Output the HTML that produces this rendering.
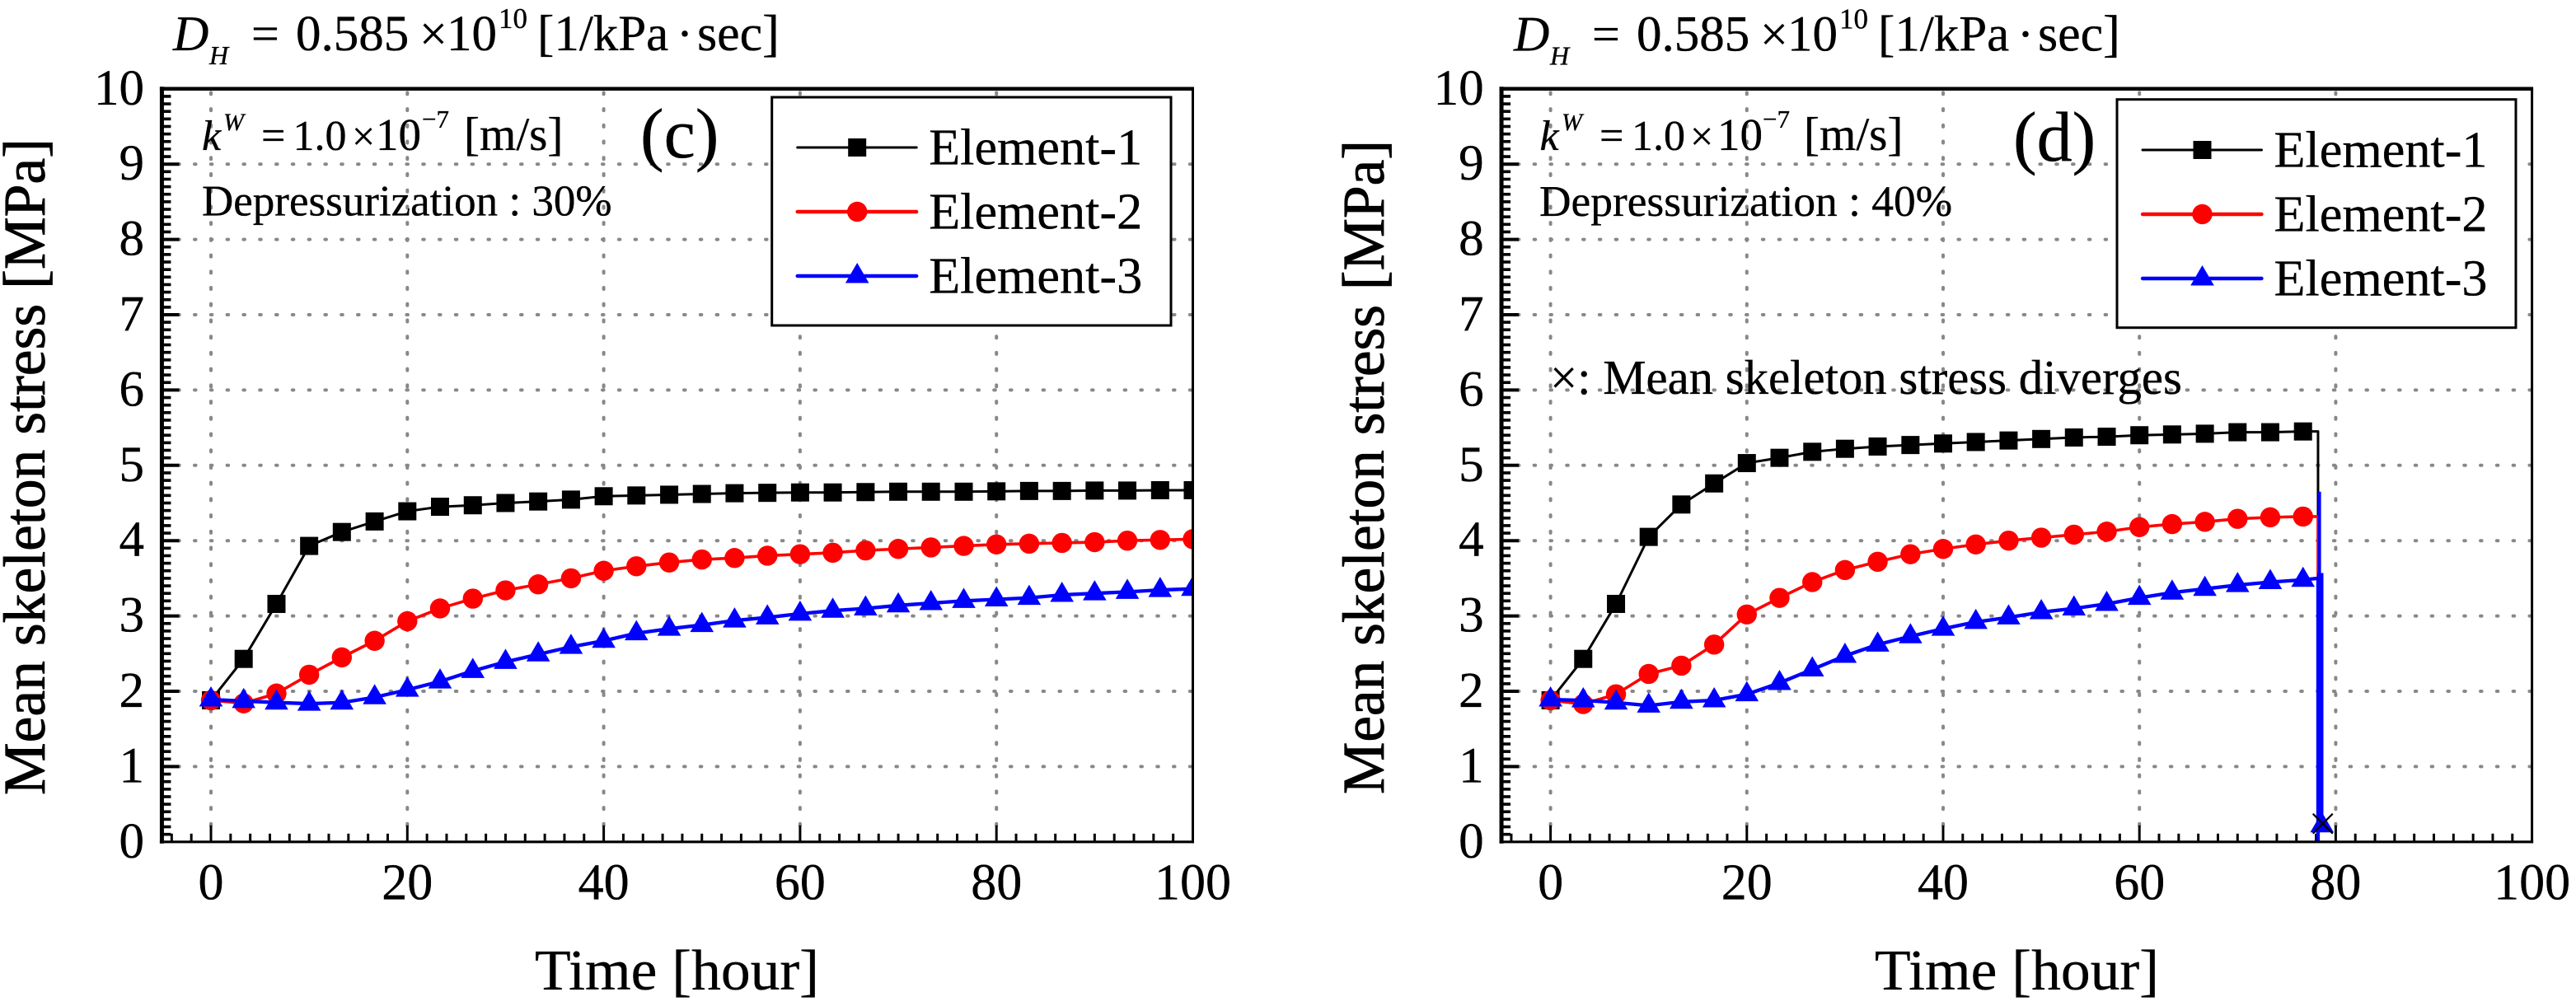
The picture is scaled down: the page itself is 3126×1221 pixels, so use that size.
<!DOCTYPE html>
<html lang="en">
<head>
<meta charset="utf-8">
<title>Mean skeleton stress vs time</title>
<style>
  html,body{margin:0;padding:0;background:#fff;}
  svg{display:block;}
  text{font-family:"Liberation Serif","Times New Roman",serif;fill:#000;stroke:#000;stroke-width:0.35px;}
</style>
</head>
<body>
<svg id="figure" xmlns="http://www.w3.org/2000/svg" width="3126" height="1221" viewBox="0 0 3126 1221">
  <rect x="0" y="0" width="3126" height="1221" fill="#fff"/>
  <g id="panel-c"></g>
  <g id="panel-d"></g>

  <g>
    <text x="210" y="61" font-size="60" font-style="italic">D</text>
    <text x="254" y="78" font-size="32" font-style="italic">H</text>
    <text x="305" y="61" font-size="60">=</text>
    <text x="359" y="61" font-size="61">0.585</text>
    <text x="509" y="61" font-size="60">×</text>
    <text x="542" y="61" font-size="61">10</text>
    <text x="605" y="34" font-size="35">10</text>
    <text x="652" y="61" font-size="61">[1/kPa</text>
    <text x="821" y="61" font-size="60">·</text>
    <text x="846" y="61" font-size="62">sec]</text>
  </g>
  <g>
    <text x="245" y="182" font-size="52" font-style="italic">k</text>
    <text x="271" y="158" font-size="30" font-style="italic">W</text>
    <text x="317" y="182" font-size="52">=</text>
    <text x="355.5" y="182" font-size="52">1.0</text>
    <text x="427" y="182" font-size="50">×</text>
    <text x="456" y="182" font-size="55">10</text>
    <text x="512" y="155" font-size="31">−7</text>
    <text x="563" y="182" font-size="57">[m/s]</text>
  </g>
  <text x="245" y="261.5" font-size="53">Depressurization : 30%</text>
  <text x="777" y="191" font-size="86">(c)</text>
  <text x="649" y="1201" font-size="70" textLength="345" lengthAdjust="spacingAndGlyphs">Time [hour]</text>
  <text transform="translate(54,965) rotate(-90)" font-size="72" textLength="797" lengthAdjust="spacingAndGlyphs" style="stroke-width:0.8px">Mean skeleton stress [MPa]</text>

  <g>
    <text x="1837" y="61.5" font-size="60" font-style="italic">D</text>
    <text x="1881" y="78.5" font-size="32" font-style="italic">H</text>
    <text x="1932" y="61.5" font-size="60">=</text>
    <text x="1986" y="61.5" font-size="61">0.585</text>
    <text x="2136" y="61.5" font-size="60">×</text>
    <text x="2169" y="61.5" font-size="61">10</text>
    <text x="2232" y="34.5" font-size="35">10</text>
    <text x="2279" y="61.5" font-size="61">[1/kPa</text>
    <text x="2448" y="61.5" font-size="60">·</text>
    <text x="2473" y="61.5" font-size="62">sec]</text>
  </g>
  <g>
    <text x="1868.5" y="182" font-size="52" font-style="italic">k</text>
    <text x="1895" y="158" font-size="30" font-style="italic">W</text>
    <text x="1941" y="182" font-size="52">=</text>
    <text x="1980" y="182" font-size="52">1.0</text>
    <text x="2051" y="182" font-size="50">×</text>
    <text x="2084" y="182" font-size="55">10</text>
    <text x="2139" y="155" font-size="31">−7</text>
    <text x="2189" y="182" font-size="57">[m/s]</text>
  </g>
  <text x="1868" y="262" font-size="53.4">Depressurization : 40%</text>
  <text x="2443" y="195" font-size="86">(d)</text>
  <text x="1881" y="478" font-size="58.8">×: Mean skeleton stress diverges</text>
  <text x="2275" y="1201" font-size="70" textLength="345" lengthAdjust="spacingAndGlyphs">Time [hour]</text>
  <text transform="translate(1679,964) rotate(-90)" font-size="72" textLength="794" lengthAdjust="spacingAndGlyphs" style="stroke-width:0.8px">Mean skeleton stress [MPa]</text>
</svg>

<script>
// ---- Data ----
const xTickValues = [0, 20, 40, 60, 80, 100];
const yTickValues = [0, 1, 2, 3, 4, 5, 6, 7, 8, 9, 10];
const seriesNames = ['Element-1', 'Element-2', 'Element-3'];

const timesC = [0, 3.33, 6.67, 10, 13.33, 16.67, 20, 23.33, 26.67, 30, 33.33, 36.67, 40, 43.33, 46.67, 50, 53.33, 56.67, 60, 63.33, 66.67, 70, 73.33, 76.67, 80, 83.33, 86.67, 90, 93.33, 96.67, 100];
const element1C = [1.88, 2.43, 3.16, 3.93, 4.115, 4.255, 4.39, 4.45, 4.47, 4.50, 4.52, 4.545, 4.59, 4.60, 4.61, 4.62, 4.63, 4.635, 4.64, 4.64, 4.645, 4.65, 4.65, 4.65, 4.655, 4.66, 4.66, 4.665, 4.665, 4.67, 4.67];
const element2C = [1.88, 1.84, 1.97, 2.22, 2.45, 2.67, 2.93, 3.10, 3.23, 3.34, 3.42, 3.50, 3.60, 3.66, 3.71, 3.75, 3.77, 3.80, 3.82, 3.84, 3.87, 3.89, 3.91, 3.93, 3.95, 3.96, 3.97, 3.98, 4.0, 4.01, 4.02];
const element3C = [1.89, 1.87, 1.85, 1.835, 1.85, 1.92, 2.02, 2.13, 2.27, 2.39, 2.49, 2.59, 2.67, 2.77, 2.83, 2.88, 2.94, 2.98, 3.03, 3.07, 3.10, 3.14, 3.17, 3.20, 3.22, 3.24, 3.28, 3.30, 3.32, 3.345, 3.36];

const timesD = [0, 3.33, 6.67, 10, 13.33, 16.67, 20, 23.33, 26.67, 30, 33.33, 36.67, 40, 43.33, 46.67, 50, 53.33, 56.67, 60, 63.33, 66.67, 70, 73.33, 76.67];
const element1D = [1.88, 2.43, 3.16, 4.05, 4.48, 4.76, 5.03, 5.10, 5.18, 5.22, 5.25, 5.27, 5.29, 5.31, 5.33, 5.35, 5.37, 5.38, 5.40, 5.41, 5.42, 5.44, 5.44, 5.45];
const element2D = [1.88, 1.83, 1.96, 2.23, 2.34, 2.62, 3.02, 3.24, 3.45, 3.61, 3.72, 3.82, 3.89, 3.95, 4.0, 4.04, 4.08, 4.12, 4.18, 4.22, 4.25, 4.29, 4.31, 4.32];
const element3D = [1.89, 1.88, 1.85, 1.81, 1.86, 1.88, 1.96, 2.11, 2.29, 2.47, 2.62, 2.73, 2.83, 2.92, 2.98, 3.05, 3.10, 3.16, 3.24, 3.31, 3.36, 3.41, 3.45, 3.48];

// Collapse of each element in panel (d) at the divergence time
const collapseTime = 78.2;
const collapseEnd1 = 5.45;
const collapseEnd2 = 4.32;
const collapseEnd3 = 3.50;
const blueDropTimes = [78.35, 78.43, 78.2];
const blueDropTops = [4.65, 3.57, 0.3];
const blueDropBottoms = [3.57, 0.2, 0];
const divergeTime = 78.6;
const divergeValue = 0.22;

// ---- Drawing helpers ----
const NS = 'http://www.w3.org/2000/svg';
const colors = ['#000000', '#ff0000', '#0000ff'];
const widths = [3, 3.6, 4.3];
const dropWidths = [3.7, 7.6, 3.6];

function make(tag, attrs, parent) {
  const node = document.createElementNS(NS, tag);
  for (const k in attrs) node.setAttribute(k, attrs[k]);
  parent.appendChild(node);
  return node;
}

function drawMarker(kind, cx, cy, parent) {
  let m;
  if (kind === 0) {
    m = make('rect', {x: cx - 11, y: cy - 11, width: 22, height: 22, fill: colors[0]}, parent);
  } else if (kind === 1) {
    m = make('circle', {cx: cx, cy: cy, r: 12.2, fill: colors[1]}, parent);
  } else {
    m = make('polygon', {points: (cx) + ',' + (cy - 16) + ' ' + (cx + 14.3) + ',' + (cy + 8.5) + ' ' + (cx - 14.3) + ',' + (cy + 8.5), fill: colors[2]}, parent);
  }
  return m;
}

function drawPanel(cfg) {
  const root = document.getElementById(cfg.id);
  const xs = t => cfg.x0 + cfg.pxPerHour * t;
  const ys = v => cfg.yZero - cfg.pxPerUnit * v;
  const left = xs(-5), right = xs(100), top = ys(10), bottom = ys(0);

  const defs = make('defs', {}, root);
  const clip = make('clipPath', {id: cfg.id + '-clip'}, defs);
  make('rect', {x: left, y: top, width: right - left, height: bottom - top}, clip);

  // gridlines
  const grid = make('g', {}, root);
  
  
  yTickValues.slice(1, -1).forEach(v => {
    const g = make('line', {x1: left + 19.8, x2: right, y1: ys(v), y2: ys(v), stroke: '#888', 'stroke-width': 4, 'stroke-linecap': 'round', 'stroke-dasharray': '1.5 18.3'}, grid);
    
    
  });
  xTickValues.slice(0, -1).forEach(t => {
    const g = make('line', {x1: xs(t), x2: xs(t), y1: bottom - 20, y2: top, stroke: '#888', 'stroke-width': 4, 'stroke-linecap': 'round', 'stroke-dasharray': '2 17.72'}, grid);
    
    
  });

  // ticks
  const ticks = make('g', {stroke: '#000'}, root);
  
  
  for (let i = 1; i < 100; i++) {
    const major = i % 10 === 0;
    make('line', {x1: left, x2: left + (major ? 21 : 11), y1: ys(i / 10), y2: ys(i / 10), 'stroke-width': major ? 4 : 3.6}, ticks);
  }
  for (let t = -4; t < 100; t += 2) {
    const major = t % 20 === 0;
    make('line', {x1: xs(t), x2: xs(t), y1: bottom, y2: bottom - (major ? 20 : 10), 'stroke-width': 3}, ticks);
  }

  // series lines and markers
  const plot = make('g', {'clip-path': 'url(#' + cfg.id + '-clip)'}, root);
  
  
  cfg.series.forEach((values, s) => {
    const pts = values.map((v, i) => xs(cfg.times[i]) + ',' + ys(v));
    if (cfg.collapse) {
      pts.push(xs(collapseTime) + ',' + ys(cfg.collapse[s]));
      pts.push(xs(collapseTime) + ',' + ys(0));
    }
    const line = make('polyline', {points: pts.join(' '), fill: 'none', stroke: colors[s], 'stroke-width': widths[s], 'stroke-linejoin': 'round'}, plot);
    
    
    const markers = make('g', {}, plot);
    
    
    values.forEach((v, i) => {
      const m = drawMarker(s, xs(cfg.times[i]), ys(v), markers);
      
      
    });
  });

  // collapse and divergence mark (panel d)
  if (cfg.collapse) {
    blueDropTimes.forEach((t, i) => {
      const d = make('line', {x1: xs(t), x2: xs(t), y1: ys(blueDropTops[i]), y2: ys(blueDropBottoms[i]), stroke: colors[2], 'stroke-width': dropWidths[i]}, plot);
      
      
    });
    const tri = drawMarker(2, xs(divergeTime), ys(divergeValue), plot);
    
    
    const cx = xs(divergeTime) + 1, cy = ys(divergeValue) - 2;
    const cross = make('path', {d: 'M' + (cx - 12) + ' ' + (cy - 12) + 'L' + (cx + 12) + ' ' + (cy + 12) + 'M' + (cx + 12) + ' ' + (cy - 12) + 'L' + (cx - 12) + ' ' + (cy + 12), stroke: '#000', 'stroke-width': 2.2, fill: 'none'}, plot);
    
    
  }

  // axes frame
  const frame = make('g', {stroke: '#000', fill: 'none'}, root);
  
  
  make('line', {x1: left, x2: left, y1: top - 2.5, y2: bottom + 2, 'stroke-width': 5}, frame);
  make('line', {x1: left - 2.5, x2: right + 1.5, y1: top, y2: top, 'stroke-width': 4.5}, frame);
  make('line', {x1: right, x2: right, y1: top, y2: bottom + 1.5, 'stroke-width': 3}, frame);
  make('line', {x1: left - 2.5, x2: right + 1.5, y1: bottom, y2: bottom, 'stroke-width': 3.2}, frame);

  // tick labels
  yTickValues.forEach(v => {
    const lab = make('text', {x: left - 21.4, y: ys(v) + 19, 'font-size': 61, 'text-anchor': 'end'}, root);
    lab.textContent = v;
    
    
  });
  xTickValues.forEach(t => {
    const lab = make('text', {x: xs(t), y: 1091.5, 'font-size': 62, 'text-anchor': 'middle'}, root);
    lab.textContent = t;
    
    
  });

  // legend
  const L = cfg.legend;
  const legend = make('g', {}, root);
  
  
  make('rect', {x: L.x, y: L.y, width: L.w, height: L.h, fill: '#fff', stroke: '#000', 'stroke-width': 3}, legend);
  seriesNames.forEach((name, s) => {
    const entry = make('g', {}, legend);
    
    
    const rowY = L.rowY + s * L.rowStep;
    make('line', {x1: L.x + 31, x2: L.x + 175.5, y1: rowY, y2: rowY, stroke: colors[s], 'stroke-width': s === 0 ? 3 : 4.4, 'stroke-linecap': 'round'}, entry);
    drawMarker(s, L.x + 103.5, rowY, entry);
    const label = make('text', {x: L.x + 190.5, y: rowY + 20.7, 'font-size': 62.2}, entry);
    label.textContent = name;
  });
}

drawPanel({
  id: 'panel-c',
  x0: 256, pxPerHour: 11.915, yZero: 1021.8, pxPerUnit: 91.4,
  times: timesC,
  series: [element1C, element2C, element3C],
  collapse: null,
  legend: {x: 936.7, y: 118, w: 484.3, h: 277, rowY: 179, rowStep: 78}
});

drawPanel({
  id: 'panel-d',
  x0: 1881.6, pxPerHour: 11.91, yZero: 1021.8, pxPerUnit: 91.4,
  times: timesD,
  series: [element1D, element2D, element3D],
  collapse: [collapseEnd1, collapseEnd2, collapseEnd3],
  legend: {x: 2569, y: 120.7, w: 484, h: 277, rowY: 182, rowStep: 78}
});
</script>
</body>
</html>
